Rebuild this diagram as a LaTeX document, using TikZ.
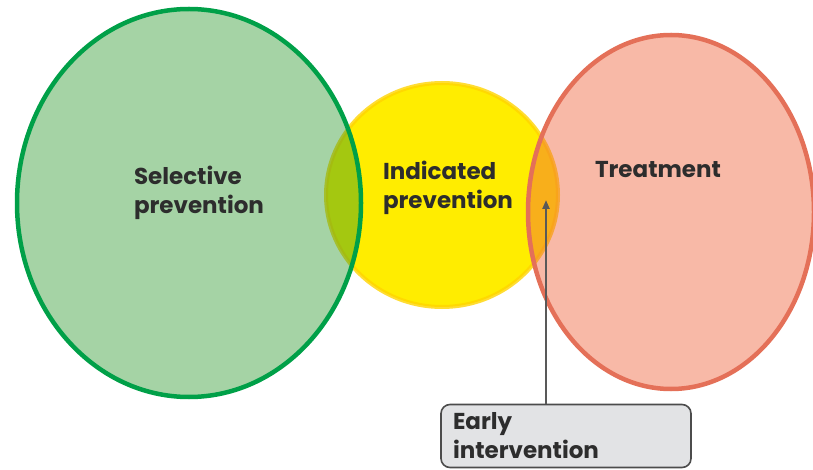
\documentclass[tikz,border=0pt]{standalone}
\usepackage{fontspec}
\setmainfont{Poppins}
\usetikzlibrary{arrows.meta}
\definecolor{selgreen}{RGB}{40,150,40}
\definecolor{selline}{RGB}{0,160,72}
\definecolor{indyellow}{RGB}{255,237,0}
\definecolor{indline}{RGB}{255,212,0}
\definecolor{trtred}{RGB}{240,100,60}
\definecolor{trtline}{RGB}{228,112,88}
\definecolor{boxgray}{RGB}{226,227,229}
\definecolor{txtgray}{RGB}{45,45,45}
\tikzset{
  lbl/.style={text=txtgray,font=\fontsize{23}{29}\selectfont\bfseries,align=left},
  boxlbl/.style={lbl,draw=black!70,line width=1.6pt,fill=boxgray,rounded corners=9pt,
    text width=226pt,minimum height=63pt,inner xsep=12pt,inner ysep=5pt}
}
\begin{document}
\begin{tikzpicture}[x=1pt,y=-1pt]
      \useasboundingbox (0,0) rectangle (813,470);
      \begin{scope}
        \clip (0,0) rectangle (813,470);
        \coordinate(I)at(442,195);
        \coordinate(S)at(189,203);
        \coordinate(T)at(671,212);
        \fill[indyellow] (I) ellipse [x radius=116,y radius=112];
        \draw[indline,line width=4pt,draw opacity=.8] (I) ellipse [x radius=116,y radius=112];
        \draw[selline,line width=4.5pt,fill=selgreen,fill opacity=.42] (S) ellipse [x radius=172,y radius=194];
        \draw[trtline,line width=4.5pt,fill=trtred,fill opacity=.45] (T) ellipse [x radius=143,y radius=177];
      \end{scope}
      \node[lbl](sel)at(199,193){Selective\\prevention};
      \node[lbl](ind)at(448,188){Indicated\\prevention};
      \node[lbl](trt)at(658,170){Treatment};
      \node[boxlbl](early)at(566,436){Early\\intervention};
      \coordinate(tip)at(546,200);
      \draw[black!65,line width=2.2pt,-{Triangle[length=9pt,width=7pt]}] (early.north -| tip)--(tip);
    \end{tikzpicture}
\end{document}
